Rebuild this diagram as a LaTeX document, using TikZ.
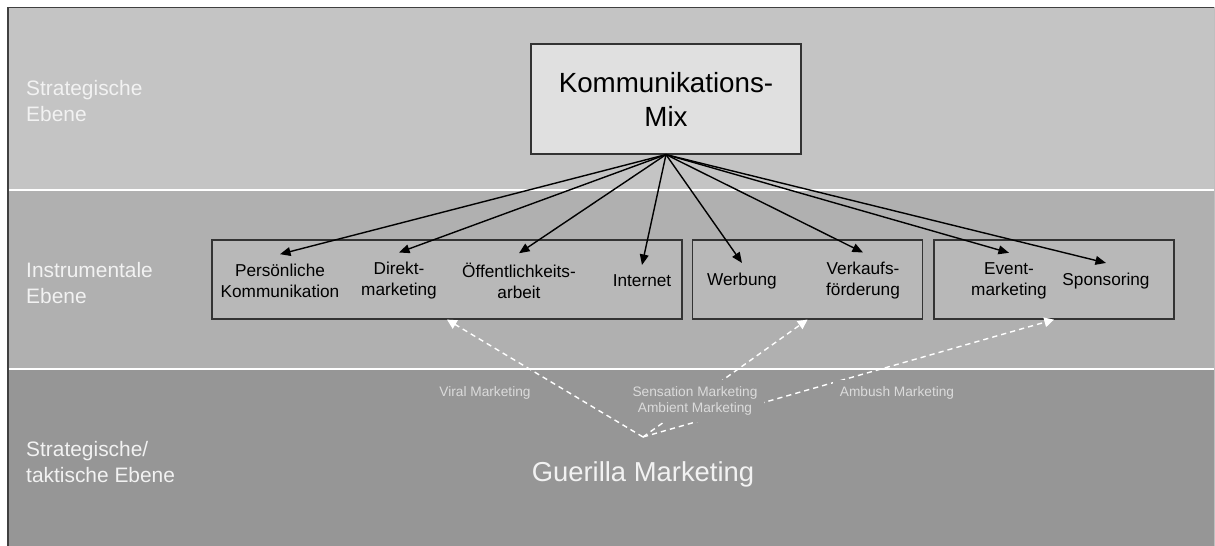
\documentclass[tikz,border=0pt]{standalone}
\usepackage{fontspec}
\setmainfont{Liberation Sans}
\usetikzlibrary{arrows.meta}

\definecolor{bandtop}{gray}{0.77}
\definecolor{bandmid}{gray}{0.69}
\definecolor{bandlow}{gray}{0.59}
\definecolor{boxfill}{gray}{0.72}
\definecolor{mixfill}{gray}{0.88}
\definecolor{lighttext}{gray}{0.95}
\definecolor{smalltext}{gray}{0.86}

\tikzset{
  ebene/.style={anchor=west, align=left, text=lighttext, font=\fontsize{11.9}{14.7}\selectfont},
  instr/.style={align=center, inner sep=5.5pt, font=\fontsize{9.8}{11.9}\selectfont},
  gruppe/.style={draw=black!80, fill=boxfill, line width=0.7pt, minimum height=1.58cm},
  verbindung/.style={-{Triangle[length=6pt,width=5pt]}, line width=0.8pt},
  guerilla/.style={white, dash pattern=on 3pt off 2.3pt, line width=0.8pt, -{Triangle[length=5.5pt,width=5.5pt]}},
  taktik/.style={fill=bandlow, text=smalltext, align=center, inner sep=4pt, font=\fontsize{7.8}{9}\selectfont}
}

\begin{document}
\begin{tikzpicture}[x=0.02cm,y=-0.02cm]
  \useasboundingbox (0,0) rectangle (1215,546);
  % Ebenen
  \fill[white] (0,0) rectangle (1215,546);
  \fill[bandtop] (8,7.5) rectangle (1214,190);
  \fill[bandmid] (8,190) rectangle (1214,369);
  \fill[bandlow] (8,369) rectangle (1214,546);
  \draw[white, line width=1.4pt] (9,190) -- (1214,190) (9,369) -- (1214,369);
  \draw[black!75, line width=1pt] (8,546) -- (8,7.5) -- (1214,7.5);
  \draw[black!25, line width=0.5pt] (1214,7.5) -- (1214,546);

  \node[ebene] (strat) at (20,101) {Strategische\\Ebene};
  \node[ebene] (instr) at (20,283) {Instrumentale\\Ebene};
  \node[ebene] (takt) at (20,462) {Strategische/\\taktische Ebene};

  % Kommunikations-Mix
  \node[draw=black!80, fill=mixfill, line width=0.7pt, minimum width=5.4cm, minimum height=2.2cm,
        align=center, font=\fontsize{15.8}{19.3}\selectfont] (mix) at (666,99) {Kommunikations-\\Mix};

  % Instrumente
  \node[gruppe, minimum width=9.4cm] (grpA) at (447,279.5) {};
  \node[gruppe, minimum width=4.6cm] (grpB) at (807.5,279.5) {};
  \node[gruppe, minimum width=4.8cm] (grpC) at (1054,279.5) {};

  \node[instr] (pers) at (280,281) {Persönliche\\Kommunikation};
  \node[instr] (direkt) at (399,281) {Direkt-\\marketing};
  \node[instr] (oeff) at (519,281) {Öffentlichkeits-\\arbeit};
  \node[instr] (internet) at (642,281) {Internet};
  \node[instr] (werbung) at (742,281) {Werbung};
  \node[instr] (verkauf) at (863,281) {Verkaufs-\\förderung};
  \node[instr] (event) at (1009,281) {Event-\\marketing};
  \node[instr] (sponsor) at (1106,281) {Sponsoring};

  \foreach \z in {pers,direkt,oeff,internet,werbung,verkauf,event,sponsor}
    \draw[verbindung] (mix.south) -- (\z.north);

  % Guerilla
  \node[text=lighttext, font=\fontsize{15.6}{18}\selectfont] (guer) at (643,474) {Guerilla Marketing};
  \coordinate (src) at (643,437);
  \draw[guerilla] (src) -- (grpA.south);
  \draw[guerilla] (src) -- (grpB.south);
  \draw[guerilla] (src) -- (grpC.south);

  \node[taktik] (viral) at (485,393) {Viral Marketing};
  \node[taktik] (sens) at (695,401) {Sensation Marketing\\Ambient Marketing};
  \node[taktik] (ambush) at (897,393) {Ambush Marketing};
\end{tikzpicture}
\end{document}
